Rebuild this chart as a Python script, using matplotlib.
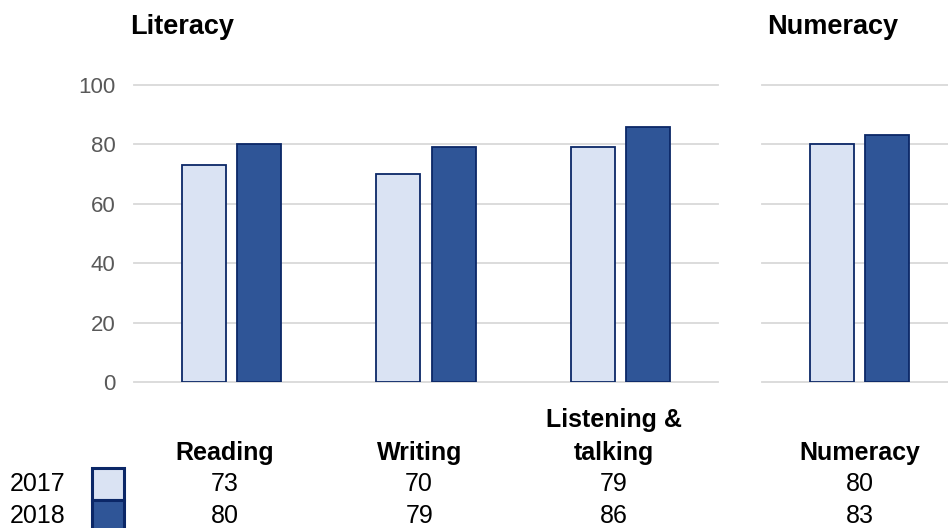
import matplotlib
matplotlib.use("Agg")
import matplotlib.pyplot as plt
from matplotlib.patches import Rectangle
from matplotlib.transforms import blended_transform_factory

plt.rcParams['font.family'] = ['Liberation Sans', 'DejaVu Sans']

# Data
years = ["2017", "2018"]
literacy_cats = ["Reading", "Writing", "Listening &\ntalking"]
literacy_2017 = [73, 70, 79]
literacy_2018 = [80, 79, 86]
numeracy_cats = ["Numeracy"]
numeracy_2017 = [80]
numeracy_2018 = [83]
yticks = [0, 20, 40, 60, 80, 100]

light = "#DAE3F3"
dark = "#2F5597"
edge = "#0B2767"
grid_c = "#D9D9D9"
tick_c = "#595959"

W, H = 948, 528
fig = plt.figure(figsize=(W / 100, H / 100), dpi=100)


def px_axes(x0, x1, y_top, y_bot):
    return fig.add_axes([x0 / W, (H - y_bot) / H, (x1 - x0) / W, (y_bot - y_top) / H])


ax_l = px_axes(134, 718, 85, 382)
ax_r = px_axes(762, 957, 85, 382)

bw = 0.226
off = 0.142


def draw_panel(ax, cats, v17, v18, show_ticks):
    xs = list(range(len(cats)))
    ax.bar([x - off for x in xs], v17, width=bw, color=light, edgecolor=edge,
           linewidth=1.3, zorder=3)
    ax.bar([x + off for x in xs], v18, width=bw, color=dark, edgecolor=edge,
           linewidth=1.3, zorder=3)
    ax.set_xlim(-0.5, len(cats) - 0.5)
    ax.set_ylim(0, 100)
    ax.set_yticks(yticks)
    ax.yaxis.grid(True, color=grid_c, linewidth=1.3, zorder=0)
    ax.set_axisbelow(True)
    ax.set_xticks([])
    for s in ax.spines.values():
        s.set_visible(False)
    ax.tick_params(axis='y', length=0, pad=13.5, labelsize=16, labelcolor=tick_c)
    if not show_ticks:
        ax.set_yticklabels([])
    for line in ax.get_ygridlines():
        line.set_clip_on(False)

    # Data table under the bars
    tr = blended_transform_factory(ax.transData, fig.transFigure)
    shift = -0.035 if len(cats) > 1 else 0.0
    for x, c, a, b in zip(xs, cats, v17, v18):
        ax.text(x + shift, (H - 460) / H, c, transform=tr, ha='center', va='baseline',
                fontsize=18, fontweight='bold', color='black', linespacing=1.45)
        ax.text(x + shift, (H - 484) / H, f"{a}", transform=tr, ha='center', va='center',
                fontsize=18, color='black')
        ax.text(x + shift, (H - 516) / H, f"{b}", transform=tr, ha='center', va='center',
                fontsize=18, color='black')


draw_panel(ax_l, literacy_cats, literacy_2017, literacy_2018, True)
draw_panel(ax_r, numeracy_cats, numeracy_2017, numeracy_2018, False)

# Panel titles
fig.text(130 / W, (H - 27) / H, "Literacy", ha='left', va='center',
         fontsize=19.5, fontweight='bold')
fig.text(767 / W, (H - 27) / H, "Numeracy", ha='left', va='center',
         fontsize=19.5, fontweight='bold')

# Row labels and legend swatches
row_y = [484, 516]
for yr, y, col in zip(years, row_y, [light, dark]):
    fig.text(10 / W, (H - y) / H, yr, ha='left', va='center', fontsize=18)
    fig.patches.append(Rectangle((92 / W, (H - y - 16) / H), 32 / W, 32 / H,
                                 transform=fig.transFigure, facecolor=col,
                                 edgecolor=edge, linewidth=2.2))

fig.savefig("out.png", dpi=100)
